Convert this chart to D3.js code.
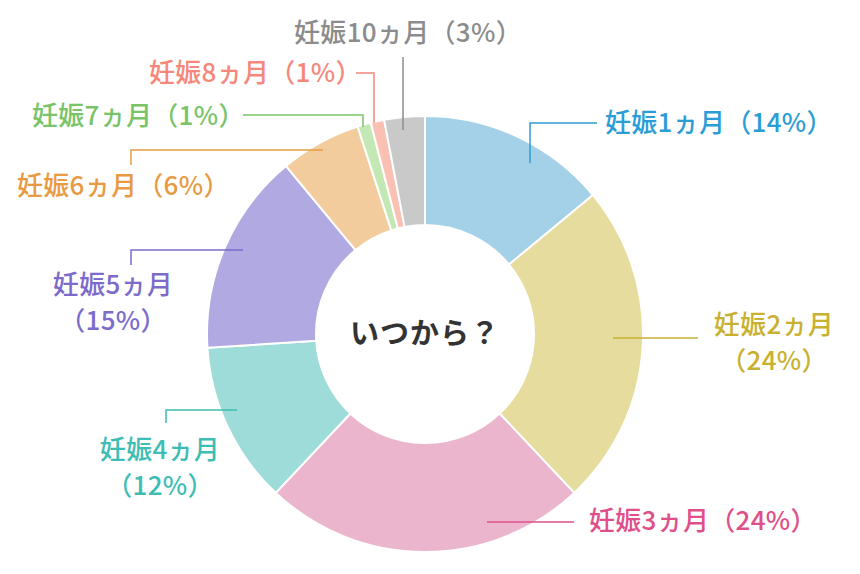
<!DOCTYPE html>
<html>
<head>
<meta charset="utf-8">
<script src="https://cdn.jsdelivr.net/npm/d3@7"></script>
<style>
  html, body { margin: 0; padding: 0; background: #fff; }
  svg { display: block; }
  text { font-family: "Noto Sans CJK JP", "Noto Sans", sans-serif; }
</style>
</head>
<body>
<svg id="chart" width="860" height="574"></svg>
<script>
// ---- data ----
const categories = ["妊娠1ヵ月", "妊娠2ヵ月", "妊娠3ヵ月", "妊娠4ヵ月", "妊娠5ヵ月", "妊娠6ヵ月", "妊娠7ヵ月", "妊娠8ヵ月", "妊娠10ヵ月"];
const values = [14, 24, 24, 12, 15, 6, 1, 1, 3];
const centerTitle = "いつから？";

// ---- styles ----
const sliceColors = ["#a4d0e8", "#e6dc9e", "#ebb6cd", "#9ddcd9", "#b1a9e1", "#f2cc9c", "#c3e8b3", "#fbc0b4", "#c9c9c9"];
const textColors  = ["#2b9dd6", "#c8b130", "#df4f8a", "#3dbdb3", "#7c6bcb", "#e89a42", "#78c466", "#f5887a", "#8c8c8c"];

// ---- layout (label placement and leader routes) ----
const labelLayout = [
  { lines: 1, x: 605, y: 123, anchor: "start", leader: [[597, 123], [530, 123], [530, 163]] },
  { lines: 2, x: 774, y: 325, anchor: "middle", leader: [[698, 338], [613, 338]] },
  { lines: 1, x: 589, y: 521, anchor: "start", leader: [[574, 522], [487, 522]] },
  { lines: 2, x: 160, y: 450, anchor: "middle", leader: [[166, 423], [166, 410], [237, 410]] },
  { lines: 2, x: 113, y: 285, anchor: "middle", leader: [[131, 265], [131, 250], [243, 250]] },
  { lines: 1, x: 17,  y: 186, anchor: "start", leader: [[131, 165], [131, 150], [323, 150]] },
  { lines: 1, x: 32,  y: 116, anchor: "start", leader: [[243, 115], [363, 115], [363, 127]] },
  { lines: 1, x: 149, y: 73,  anchor: "start", leader: [[356, 73], [374, 73], [374, 123]] },
  { lines: 1, x: 408, y: 33,  anchor: "middle", leader: [[403, 57], [403, 130]] }
];

const W = 860, H = 574;
const cx = 425, cy = 334, outerR = 218, innerR = 109;
const fontSize = 26, lineGap = 36;

const svg = d3.select("#chart");
const g = svg.append("g").attr("transform", `translate(${cx},${cy})`);

const pie = d3.pie().sort(null).value(d => d).startAngle(0).endAngle(2 * Math.PI);
const arc = d3.arc().innerRadius(innerR).outerRadius(outerR);
const arcs = pie(values);

g.selectAll("path.slice")
  .data(arcs)
  .join("path")
  .attr("class", "slice")
  .attr("d", arc)
  .attr("fill", (d, i) => sliceColors[i])
  .attr("stroke", "#fff")
  .attr("stroke-width", 2)
  .attr("stroke-linejoin", "round");

// leader lines
const line = d3.line();
svg.selectAll("path.leader")
  .data(labelLayout)
  .join("path")
  .attr("class", "leader")
  .attr("d", d => line(d.leader))
  .attr("fill", "none")
  .attr("stroke", (d, i) => textColors[i])
  .attr("stroke-width", 1.5);

// labels
labelLayout.forEach((L, i) => {
  const t = svg.append("text")
    .attr("text-anchor", L.anchor)
    .attr("fill", textColors[i])
    .attr("font-size", fontSize)
    .attr("font-weight", 500)
    .attr("letter-spacing", 0.3);
  if (L.lines === 1) {
    t.append("tspan").attr("x", L.x).attr("y", L.y).attr("dy", "0.36em")
      .text(`${categories[i]}（${values[i]}%）`);
  } else {
    t.append("tspan").attr("x", L.x).attr("y", L.y).attr("dy", "0.36em").text(categories[i]);
    t.append("tspan").attr("x", L.x).attr("y", L.y + lineGap).attr("dy", "0.36em").text(`（${values[i]}%）`);
  }
});

// center title
svg.append("text")
  .attr("x", cx).attr("y", cy).attr("dy", "0.36em")
  .attr("text-anchor", "middle")
  .attr("fill", "#333")
  .attr("font-size", 29)
  .attr("font-weight", 700)
  .attr("letter-spacing", 1)
  .text(centerTitle);
</script>
</body>
</html>
